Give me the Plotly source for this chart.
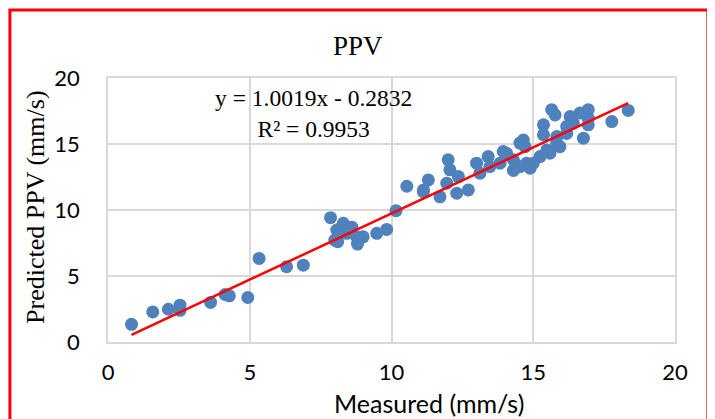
import plotly.graph_objects as go

measured = [0.83, 1.58, 2.13, 2.54, 2.54, 3.62, 4.13, 4.28, 4.93, 5.33, 6.3, 6.89,
            7.85, 8.3, 8.07, 8.0, 8.1, 8.42, 8.77, 8.8, 9.0, 9.48, 9.83, 10.16,
            10.54, 11.12, 11.3, 11.13, 11.71, 12.0, 12.06, 11.95, 12.3, 12.36, 12.71,
            13.0, 13.12, 13.41, 13.47, 13.83, 14.06, 14.3, 14.53, 13.94, 14.3,
            14.65, 14.71, 14.77, 15.0, 15.36, 15.36, 15.48, 15.65, 15.77, 15.83,
            15.94, 16.18, 16.3, 16.65, 16.94, 16.94, 16.77, 16.94, 17.77, 18.35,
            14.53, 14.89, 15.24, 15.59, 15.83, 16.18, 16.41, 8.2, 8.6]
predicted = [1.34, 2.28, 2.48, 2.79, 2.4, 3.0, 3.6, 3.5, 3.37, 6.33, 5.7, 5.82,
             9.42, 8.99, 8.48, 7.72, 7.6, 8.23, 7.97, 7.42, 7.97, 8.23, 8.53, 9.95,
             11.8, 11.39, 12.28, 11.52, 11.0, 13.8, 13.04, 12.03, 11.27, 12.53, 11.52,
             13.55, 12.79, 14.05, 13.29, 13.55, 14.3, 13.8, 15.07, 14.43, 13.0,
             15.3, 14.8, 13.55, 13.55, 16.45, 15.7, 14.55, 17.6, 17.2, 15.07,
             14.8, 16.33, 17.08, 17.34, 17.6, 16.96, 15.44, 16.45, 16.7, 17.54,
             13.29, 13.17, 14.05, 14.3, 15.57, 15.8, 16.58, 8.6, 8.7]

slope = 1.0019
intercept = -0.2832
r2 = 0.9953
x_ticks = [0, 5, 10, 15, 20]
y_ticks = [0, 5, 10, 15, 20]

x_line = [min(measured), max(measured)]
y_line = [slope * v + intercept for v in x_line]

fig = go.Figure()
fig.add_trace(go.Scatter(x=measured, y=predicted, mode="markers",
                         marker=dict(size=13, color="#4F81BD"),
                         showlegend=False))
fig.add_trace(go.Scatter(x=x_line, y=y_line, mode="lines",
                         line=dict(color="#FF0000", width=2.5),
                         showlegend=False))

grid = "#D9D9D9"
serif = "Liberation Serif"
sans = "Lato"
fig.update_layout(
    width=707, height=411,
    margin=dict(l=100, r=40, t=70, b=77),
    paper_bgcolor="white", plot_bgcolor="white",
    xaxis=dict(range=[0, 20], tickvals=x_ticks, showgrid=True, gridcolor=grid,
               gridwidth=1.5, showline=True, linecolor=grid, linewidth=1.5,
               mirror=True, zeroline=False, ticks="", ticklabelstandoff=10,
               tickfont=dict(family=sans, size=22, color="black")),
    yaxis=dict(range=[0, 20], tickvals=y_ticks, showgrid=True, gridcolor=grid,
               gridwidth=1.5, showline=True, linecolor=grid, linewidth=1.5,
               mirror=True, zeroline=False, ticks="", ticklabelstandoff=22,
               tickfont=dict(family=sans, size=22, color="black")),
    annotations=[
        dict(text="PPV", xref="paper", yref="paper", x=0.441, y=1.12,
             xanchor="center", yanchor="middle", showarrow=False,
             font=dict(family=serif, size=27, color="black")),
        dict(text=f"y = {slope}x - {abs(intercept)}<br>R² = {r2}",
             xref="paper", yref="paper", x=0.362, y=0.864, xanchor="center",
             yanchor="middle", showarrow=False, align="center",
             font=dict(family=serif, size=23.5, color="black")),
        dict(text="Measured (mm/s)", xref="paper", yref="paper",
             x=0.566, y=-0.232, xanchor="center", yanchor="middle",
             showarrow=False,
             font=dict(family=sans, size=25, color="black")),
        dict(text="Predicted PPV (mm/s)", xref="paper", yref="paper",
             x=-0.129, y=0.511, xanchor="center", yanchor="middle",
             textangle=-90, showarrow=False,
             font=dict(family=serif, size=26, color="black")),
    ],
    shapes=[dict(type="rect", xref="paper", yref="paper",
                 x0=-0.173, x1=1.058, y0=-0.4, y1=1.258,
                 line=dict(color="#FF0000", width=3), layer="above")],
)

fig.write_html("out.html")
